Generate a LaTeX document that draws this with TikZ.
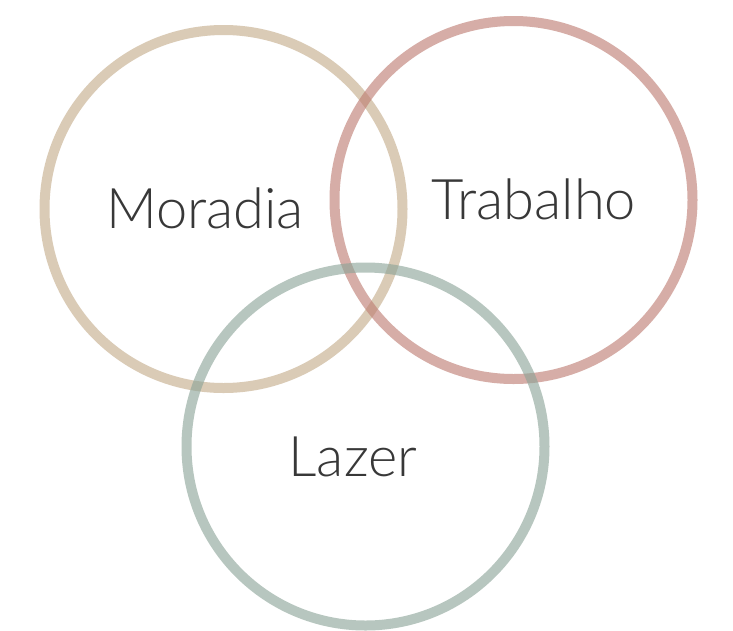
\documentclass[tikz,border=0pt]{standalone}
\usepackage{fontspec}
\newfontfamily\lightfont{Lato Light}
\begin{document}
\begin{tikzpicture}[x=1pt,y=-1pt,
  ring/.style={line width=10pt, draw opacity=0.62},
  lbl/.style={font=\lightfont\fontsize{56}{60}\selectfont, text=black!78, anchor=base, inner sep=0pt}]
\useasboundingbox[fill=white] (0,0) rectangle (733,630);
\definecolor{tan}{RGB}{196,172,138}
\definecolor{rose}{RGB}{190,124,114}
\definecolor{sage}{RGB}{140,164,152}
\node[circle, minimum size=358pt, draw=tan, ring] (m) at (223.5,209) {};
\node[circle, minimum size=358pt, draw=rose, ring] (t) at (513.5,200) {};
\node[circle, minimum size=358pt, draw=sage, ring] (l) at (365.5,446.5) {};
\node[lbl] (mt) at (205,228) {Moradia};
\node[lbl] (tt) at (534,219) {Trabalho};
\node[lbl] (lt) at (353,476) {Lazer};
\end{tikzpicture}
\end{document}
